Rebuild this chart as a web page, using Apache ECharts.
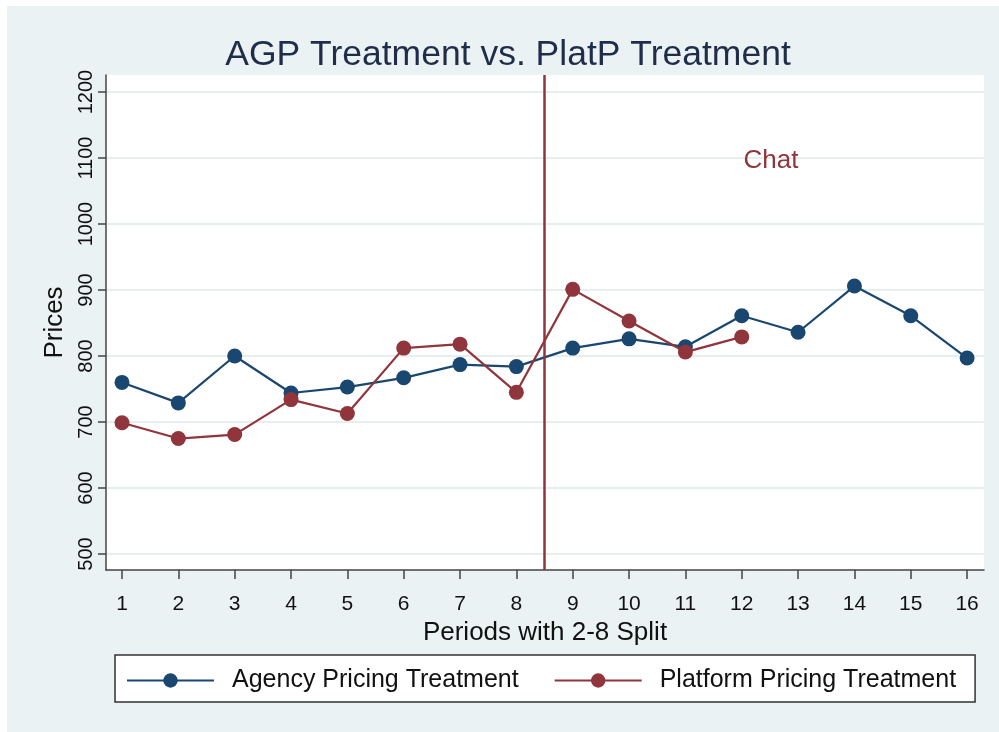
<!DOCTYPE html>
<html>
<head>
<meta charset="utf-8">
<script src="https://cdn.jsdelivr.net/npm/echarts@6/dist/echarts.min.js"></script>
<style>
  html, body { margin: 0; padding: 0; background: #fff; }
  #box { position: absolute; left: 7px; top: 6px; width: 992px; height: 726px; }
</style>
</head>
<body>
<div id="box"></div>
<script>
// periods on the x axis
const periods = [1, 2, 3, 4, 5, 6, 7, 8, 9, 10, 11, 12, 13, 14, 15, 16];
// mean prices
const agencyPrices = [760, 729, 800, 744, 753, 767, 787, 784, 812, 826, 814, 861, 836, 906, 861, 797];
const platformPrices = [699, 675, 681, 734, 713, 812, 818, 745, 901, 853, 806, 829];
const yTicks = [500, 600, 700, 800, 900, 1000, 1100, 1200];
const splitAt = 8.5;
const chatLabel = { text: "Chat", x: 12.52, y: 1096 };

const navy = "#1a476f";
const maroon = "#90353b";
const font = "Liberation Sans";

const toPairs = (vals) => vals.map((v, i) => [periods[i], v]);

const myChart = echarts.init(document.getElementById("box"));
const option = {
  backgroundColor: "#eaf2f3",
  textStyle: { fontFamily: font },
  animation: false,
  title: {
    text: "AGP Treatment vs. PlatP Treatment",
    left: 501,
    textAlign: "center",
    top: 31,
    padding: 0,
    textStyle: { fontFamily: font, fontSize: 35.5, fontWeight: "normal", color: "#1f2d4a" }
  },
  grid: {
    left: 99,
    top: 69,
    right: 15,
    bottom: 162,
    show: true,
    backgroundColor: "#fff",
    borderWidth: 0
  },
  xAxis: {
    type: "value",
    min: 0.716,
    max: 16.3,
    name: "Periods with 2-8 Split",
    nameLocation: "middle",
    nameGap: 47,
    nameTextStyle: { fontFamily: font, fontSize: 26, color: "#111" },
    axisLine: { lineStyle: { color: "#444", width: 1.5 } },
    axisTick: { length: 9, lineStyle: { color: "#444", width: 1.5 }, customValues: periods },
    axisLabel: { customValues: periods, margin: 24, fontSize: 21, color: "#111", fontFamily: font },
    splitLine: { show: false }
  },
  yAxis: {
    type: "value",
    min: 475.8,
    max: 1225.8,
    name: "Prices",
    nameLocation: "middle",
    nameGap: 38,
    nameTextStyle: { fontFamily: font, fontSize: 26, color: "#111" },
    axisLine: { show: true, lineStyle: { color: "#444", width: 1.5 } },
    axisTick: { show: true, length: 8, lineStyle: { color: "#444", width: 1.5 }, customValues: yTicks },
    axisLabel: {
      customValues: yTicks,
      formatter: (v) => String(v),
      rotate: 90,
      margin: 10,
      fontSize: 20,
      color: "#111",
      fontFamily: font
    },
    splitLine: { show: true, lineStyle: { color: "#e6eef0", width: 2 } }
  },
  legend: {
    left: 108,
    top: 649,
    padding: [13, 19, 9, 11],
    backgroundColor: "#fff",
    borderColor: "#333",
    borderWidth: 1.5,
    borderRadius: 0,
    itemWidth: 87,
    itemHeight: 18,
    itemGap: 35,
    textStyle: { fontFamily: font, fontSize: 25, color: "#111", padding: [0, 0, 0, 13] },
    data: ["Agency Pricing Treatment", "Platform Pricing Treatment"]
  },
  series: [
    {
      name: "Agency Pricing Treatment",
      type: "line",
      data: toPairs(agencyPrices),
      symbol: "circle",
      symbolSize: 15,
      itemStyle: { color: navy },
      lineStyle: { color: navy, width: 2.2 },
      z: 3
    },
    {
      name: "Platform Pricing Treatment",
      type: "line",
      data: toPairs(platformPrices),
      symbol: "circle",
      symbolSize: 15,
      itemStyle: { color: maroon },
      lineStyle: { color: maroon, width: 2.2 },
      z: 4,
      markLine: {
        silent: true,
        symbol: "none",
        label: { show: false },
        lineStyle: { color: maroon, width: 2.5, type: "solid" },
        data: [{ xAxis: splitAt }]
      },
      markPoint: {
        silent: true,
        symbol: "circle",
        symbolSize: 0,
        label: {
          show: true,
          formatter: chatLabel.text,
          fontFamily: font,
          fontSize: 26,
          color: maroon,
          position: "inside"
        },
        data: [{ coord: [chatLabel.x, chatLabel.y] }]
      }
    }
  ]
};
myChart.setOption(option);
</script>
</body>
</html>
